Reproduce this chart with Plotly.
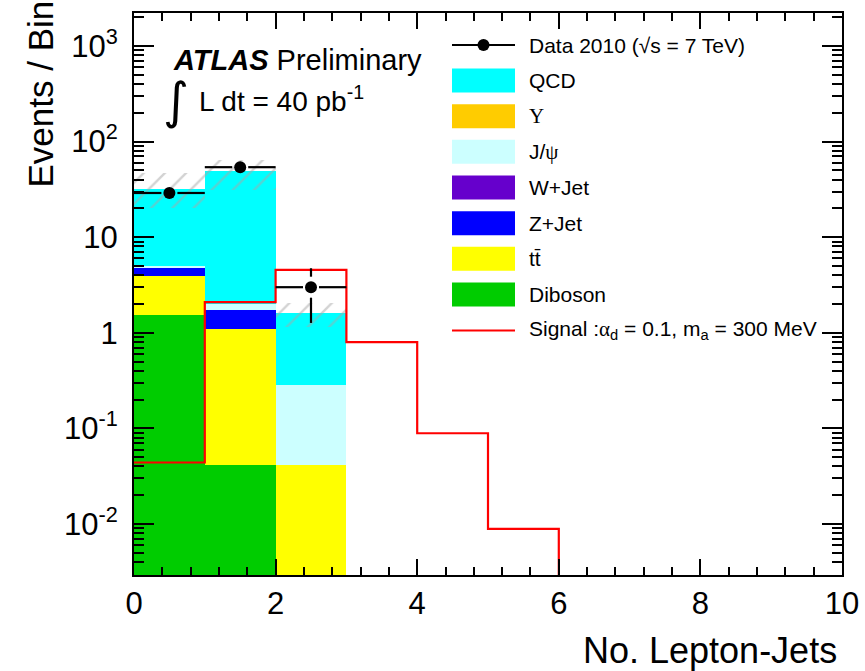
import numpy as np
import plotly.graph_objects as go

# ---- histogram data (bins of width 1 from 0 to 10) ----
bin_edges = list(range(0, 11))
bin_centers = [0.5, 1.5, 2.5]

# background stack, per-bin contributions (first three bins populated)
diboson = [1.54, 0.041, 0.0]
ttbar   = [2.43, 1.06, 0.041]
wjet    = [0.0, 0.0, 0.0]
zjet    = [0.81, 0.64, 0.0]
jpsi    = [0.22, 0.27, 0.245]
upsilon = [0.0, 0.0, 0.0]
qcd     = [27.3, 46.7, 1.33]

# total background uncertainty band
band_lo = [20.4, 31.5, 1.16]
band_hi = [47.2, 64.9, 2.06]

# observed data
data_counts = [29, 54, 3]
data_err = [float(np.sqrt(n)) for n in data_counts]

# signal expectation: alpha_d = 0.1, m_a = 300 MeV
signal = [0.044, 2.09, 4.56, 0.80, 0.089, 0.0089, 0.0, 0.0, 0.0, 0.0]

# ---- styling ----
FONT = "Liberation Sans"
SERIF = "Liberation Serif"
stack_def = [
    ("QCD", qcd, "#00ffff"),
    ("Υ", upsilon, "#ffcc00"),
    ("J/ψ", jpsi, "#ccffff"),
    ("W+Jet", wjet, "#6600cc"),
    ("Z+Jet", zjet, "#0000ff"),
    ("tt̄", ttbar, "#ffff00"),
    ("Diboson", diboson, "#00cc00"),
]

Y_MIN, Y_MAX = 0.00293, 2213.0

fig = go.Figure()

# cumulative stack heights, bottom component = Diboson
order_bottom_up = list(reversed(stack_def))
cum = np.zeros(3)
cum_list = []
for name, vals, col in order_bottom_up:
    cum = cum + np.array(vals)
    cum_list.append((name, cum.copy(), col))

# draw tallest first so lower components overlay it
for name, tot, col in reversed(cum_list):
    fig.add_trace(go.Bar(
        x=bin_centers, y=tot, width=1.0,
        marker=dict(color=col, line=dict(width=0)),
        showlegend=False, hoverinfo="skip",
    ))

# hatched uncertainty band
fig.add_trace(go.Bar(
    x=bin_centers,
    y=[h - l for h, l in zip(band_hi, band_lo)],
    base=band_lo, width=1.0,
    marker=dict(color="rgba(0,0,0,0)", line=dict(width=0),
                pattern=dict(shape="/", fgcolor="#a8a8a8", bgcolor="rgba(0,0,0,0)",
                             size=15, solidity=0.16, fillmode="overlay")),
    showlegend=False, hoverinfo="skip",
))

# signal step histogram (empty bins pushed below the visible range)
sig_x = bin_edges
sig_y = [v if v > 0 else 1e-9 for v in signal] + [signal[-1] if signal[-1] > 0 else 1e-9]
fig.add_trace(go.Scatter(
    x=sig_x, y=sig_y, mode="lines", line=dict(color="#ff0000", width=2.2, shape="hv"),
    showlegend=False, hoverinfo="skip",
))

# data error bars drawn with a gap around the marker
GAP_Y = 10.5  # px
GAP_X = 0.113  # x units
DEC_PX = 562.3 / (np.log10(Y_MAX) - np.log10(Y_MIN))
gfac = 10 ** (GAP_Y / DEC_PX)
ex, ey = [], []
for xc, n, e in zip(bin_centers, data_counts, data_err):
    ex += [xc - 0.5, xc - GAP_X, None, xc + GAP_X, xc + 0.5, None]
    ey += [n, n, None, n, n, None]
    if n + e > n * gfac:
        ex += [xc, xc, None]
        ey += [n * gfac, n + e, None]
    if n - e < n / gfac:
        ex += [xc, xc, None]
        ey += [n / gfac, max(n - e, 1e-9), None]
fig.add_trace(go.Scatter(x=ex, y=ey, mode="lines", line=dict(color="black", width=2.2),
                         showlegend=False, hoverinfo="skip"))
fig.add_trace(go.Scatter(x=bin_centers, y=data_counts, mode="markers",
                         marker=dict(color="black", size=12, symbol="circle"),
                         showlegend=False, hoverinfo="skip"))

# ---- layout ----
L, R, T, B = 134, 23, 13, 96
W_PX, H_PX = 865, 671
PW, PH = W_PX - L - R, H_PX - T - B


def px(x):
    return (x - L) / PW


def py(y):
    return (H_PX - B - y) / PH


minor_y = [m * 10 ** d for d in range(-3, 4) for m in range(2, 10)]

fig.update_layout(
    width=W_PX, height=H_PX, autosize=False,
    margin=dict(l=L, r=R, t=T, b=B, autoexpand=False),
    paper_bgcolor="white", plot_bgcolor="white",
    barmode="overlay", bargap=0,
    font=dict(family=FONT, color="black"),
    showlegend=False,
    xaxis=dict(
        range=[0, 10], dtick=2, tick0=0, automargin=False,
        ticks="inside", ticklen=16, tickwidth=1.5, tickcolor="black",
        showline=True, linecolor="black", linewidth=2, mirror="ticks",
        showgrid=False, zeroline=False,
        tickfont=dict(size=31, family=FONT),
        minor=dict(dtick=0.4, tick0=0, ticks="inside", ticklen=8, tickwidth=1.5,
                   tickcolor="black", showgrid=False),
    ),
    yaxis=dict(
        type="log", range=[np.log10(Y_MIN), np.log10(Y_MAX)], automargin=False,
        tickmode="array",
        tickvals=[0.01, 0.1, 1, 10, 100, 1000],
        ticktext=["10<sup>-2</sup>", "10<sup>-1</sup>", "1", "10", "10<sup>2</sup>", "10<sup>3</sup>"],
        ticks="inside", ticklen=20, tickwidth=1.5, tickcolor="black",
        showline=True, linecolor="black", linewidth=2, mirror="ticks",
        showgrid=False, zeroline=False,
        tickfont=dict(size=31, family=FONT),
        ticklabelstandoff=8,
        minor=dict(tickmode="array", tickvals=minor_y, ticks="inside", ticklen=10,
                   tickwidth=1.5, tickcolor="black", showgrid=False),
    ),
)

annotations = []
shapes = []

# axis titles
annotations.append(dict(xref="paper", yref="paper", x=px(839), y=py(650),
                        xanchor="right", yanchor="middle", showarrow=False,
                        text="No. Lepton-Jets", font=dict(size=36, family=FONT)))
annotations.append(dict(xref="paper", yref="paper", x=px(40), y=py(-1),
                        xanchor="center", yanchor="top", showarrow=False, textangle=-90,
                        text="Events / Bin", font=dict(size=35, family=FONT)))

# experiment labels
annotations.append(dict(xref="paper", yref="paper", x=px(171), y=py(60),
                        xanchor="left", yanchor="middle", showarrow=False,
                        text="<b><i>ATLAS</i></b> Preliminary", font=dict(size=29, family=FONT)))
annotations.append(dict(xref="paper", yref="paper", x=px(176), y=py(101),
                        xanchor="center", yanchor="middle", showarrow=False,
                        text="∫", font=dict(size=50, family="DejaVu Sans")))
annotations.append(dict(xref="paper", yref="paper", x=px(197), y=py(99),
                        xanchor="left", yanchor="middle", showarrow=False,
                        text="L dt = 40 pb<sup>-1</sup>", font=dict(size=28, family=FONT)))

# legend
LX0, LX1, TX = 452, 515, 527
leg_rows = [("data", "Data 2010 (√s = 7 TeV)", None, 45)]
ycs = [80.5, 116.2, 151.8, 187.5, 223.2, 258.8, 294.5]
for (name, vals, col), yc in zip(stack_def, ycs):
    leg_rows.append(("box", name, col, yc))
leg_rows.append(("line", "Signal :<span style='font-family:Liberation Serif'>α</span><sub>d</sub> = 0.1, m<sub>a</sub> = 300 MeV", "#ff0000", 330.5))

for kind, label, col, yc in leg_rows:
    if kind == "data":
        shapes.append(dict(type="line", xref="paper", yref="paper",
                           x0=px(LX0), x1=px(LX1), y0=py(yc), y1=py(yc),
                           line=dict(color="black", width=2)))
        shapes.append(dict(type="circle", xref="paper", yref="paper",
                           x0=px(477.5), x1=px(489.5), y0=py(yc + 6), y1=py(yc - 6),
                           fillcolor="black", line=dict(color="black", width=0)))
    elif kind == "box":
        shapes.append(dict(type="rect", xref="paper", yref="paper",
                           x0=px(LX0), x1=px(LX1), y0=py(yc + 12), y1=py(yc - 12),
                           fillcolor=col, line=dict(width=0)))
    else:
        shapes.append(dict(type="line", xref="paper", yref="paper",
                           x0=px(LX0), x1=px(LX1), y0=py(yc), y1=py(yc),
                           line=dict(color=col, width=2)))
    if label in ("Υ",):
        text = f"<span style='font-family:{SERIF}'>{label}</span>"
    elif label == "J/ψ":
        text = f"J/<span style='font-family:{SERIF}'>ψ</span>"
    else:
        text = label
    annotations.append(dict(xref="paper", yref="paper", x=px(TX), y=py(yc),
                            xanchor="left", yanchor="middle", showarrow=False,
                            text=text, font=dict(size=21, family=FONT)))

fig.update_layout(annotations=annotations, shapes=shapes)

fig.write_html("out.html")
